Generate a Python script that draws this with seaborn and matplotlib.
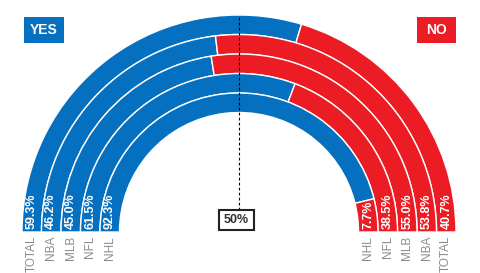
import matplotlib
matplotlib.use("Agg")
import matplotlib.pyplot as plt
from matplotlib.patches import Wedge, Rectangle
import seaborn as sns

# ---- data ----
leagues = ["TOTAL", "NBA", "MLB", "NFL", "NHL"]
yes_pct = [59.3, 46.2, 45.0, 61.5, 92.3]
no_pct = [40.7, 53.8, 55.0, 38.5, 7.7]
yes_label = "YES"
no_label = "NO"
mid_label = "50%"

BLUE = "#0570C0"
RED = "#EC1C24"
GRAY = "#8a8a8a"

sns.set_theme(style="white")
plt.rcParams["font.family"] = ["Liberation Sans", "DejaVu Sans"]

fig = plt.figure(figsize=(4.8, 2.73), dpi=100)
ax = fig.add_axes([0, 0, 1, 1])
ax.set_xlim(-239, 241)
ax.set_ylim(-41, 232)
ax.set_aspect("equal")
ax.axis("off")

r_outer = 217.0
step = 19.5
for i, (lg, y, n) in enumerate(zip(leagues, yes_pct, no_pct)):
    ro = r_outer - i * step
    split = 180 - y / 100 * 180
    ax.add_patch(Wedge((0, 0), ro, split, 180, width=step, facecolor=BLUE,
                       edgecolor="white", linewidth=1.0, zorder=2))
    ax.add_patch(Wedge((0, 0), ro, 0, split, width=step, facecolor=RED,
                       edgecolor="white", linewidth=1.0, zorder=2))
    rm = ro - step / 2
    ax.text(-rm, 3, f"{y:.1f}%", rotation=90, ha="center", va="bottom",
            color="white", fontsize=9, fontweight="bold", zorder=4)
    ax.text(rm, 3, f"{n:.1f}%", rotation=90, ha="center", va="bottom",
            color="white", fontsize=9, fontweight="bold", zorder=4)
    ax.text(-rm, -4, lg, rotation=90, ha="center", va="top",
            color=GRAY, fontsize=8.5, zorder=4)
    ax.text(rm, -4, lg, rotation=90, ha="center", va="top",
            color=GRAY, fontsize=8.5, zorder=4)

# dashed 50% line
ax.plot([0, 0], [22, 216], color="black", linewidth=0.8,
        linestyle=(0, (2.5, 2)), zorder=5)
ax.add_patch(Rectangle((-20, 2), 35, 20, facecolor="white",
                       edgecolor="#222222", linewidth=1.5, zorder=5))
ax.text(-2.5, 12, mid_label, ha="center", va="center", color="#333333",
        fontsize=9, fontweight="bold", zorder=6)

# YES / NO boxes
ax.add_patch(Rectangle((-215, 189), 40, 26, facecolor=BLUE, edgecolor="none", zorder=5))
ax.text(-195, 202, yes_label, ha="center", va="center", color="white",
        fontsize=10, fontweight="bold", zorder=6)
ax.add_patch(Rectangle((178, 189), 39, 26, facecolor=RED, edgecolor="none", zorder=5))
ax.text(197.5, 202, no_label, ha="center", va="center", color="white",
        fontsize=10, fontweight="bold", zorder=6)

fig.savefig("out.png", dpi=100)
